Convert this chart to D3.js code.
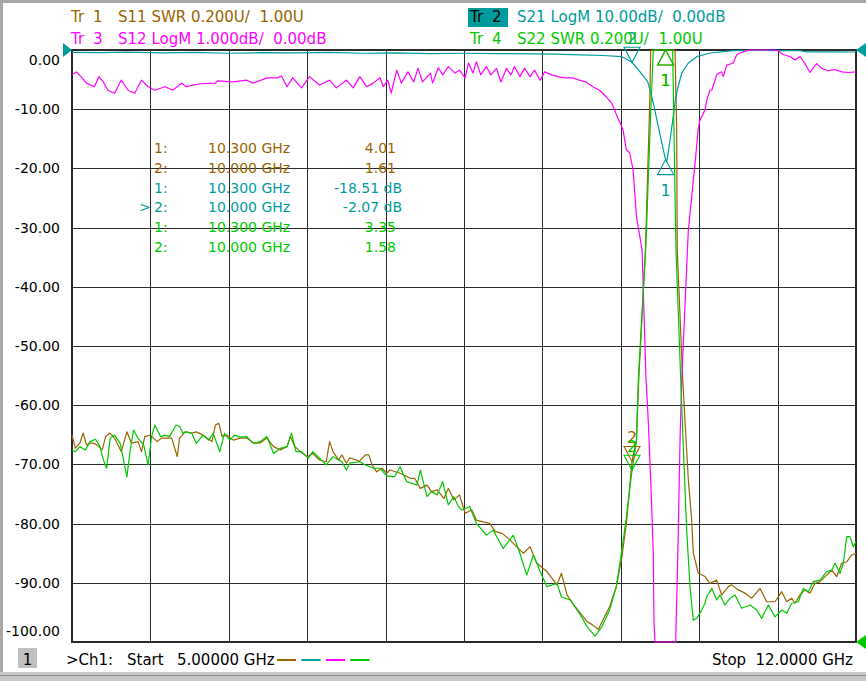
<!DOCTYPE html>
<html>
<head>
<meta charset="utf-8">
<script src="https://cdn.jsdelivr.net/npm/d3@7"></script>
<style>
  body { margin: 0; background: #fff; }
  svg { display: block; }
</style>
</head>
<body>
<div id="chart"></div>
<script>
// Sweep: 5 .. 12 GHz, 10 divisions
const startGHz = 5, stopGHz = 12;

// Tr2  S21 LogM (dB)
const s21 = [
  [5.00,-0.40],[5.25,-0.45],[5.50,-0.35],[5.80,-0.50],[6.10,-0.40],[6.40,-0.55],[6.70,-0.45],
  [7.00,-0.50],[7.30,-0.40],[7.60,-0.55],[7.90,-0.50],[8.20,-0.60],[8.50,-0.55],[8.80,-0.60],
  [9.10,-0.65],[9.30,-0.70],[9.54,-0.84],[9.74,-0.93],[9.91,-1.13],[10.00,-2.07],[10.07,-3.67],
  [10.14,-5.35],[10.19,-8.95],[10.235,-12.95],[10.28,-16.90],[10.30,-18.51],[10.31,-18.90],
  [10.34,-15.20],[10.384,-8.95],[10.404,-6.76],[10.444,-3.89],[10.503,-2.20],[10.578,-1.13],
  [10.696,-0.51],[10.902,-0.12],[11.10,-0.08],[11.30,-0.10],[11.50,-0.12],[11.55,-0.30],
  [11.80,-0.32],[12.00,-0.34]
];

// Tr3  S12 LogM (dB)
const s12 = [
  [5.00,-0.42],[5.04,-0.37],[5.09,-0.47],[5.13,-0.56],[5.20,-0.62],[5.24,-0.45],[5.28,-0.54],
  [5.32,-0.68],[5.38,-0.73],[5.44,-0.51],[5.50,-0.68],[5.56,-0.73],[5.62,-0.51],[5.68,-0.62],
  [5.74,-0.68],[5.83,-0.62],[5.90,-0.68],[5.98,-0.56],[6.02,-0.62],[6.14,-0.57],[6.28,-0.56],
  [6.30,-0.52],[6.44,-0.54],[6.56,-0.51],[6.62,-0.56],[6.74,-0.47],[6.83,-0.47],[6.87,-0.44],
  [6.92,-0.62],[6.97,-0.47],[7.05,-0.64],[7.12,-0.45],[7.21,-0.59],[7.30,-0.51],[7.36,-0.64],
  [7.45,-0.51],[7.51,-0.64],[7.57,-0.45],[7.63,-0.62],[7.69,-0.56],[7.75,-0.47],[7.78,-0.62],
  [7.82,-0.51],[7.85,-0.73],[7.90,-0.34],[7.94,-0.56],[8.00,-0.37],[8.05,-0.54],[8.09,-0.31],
  [8.13,-0.54],[8.20,-0.39],[8.22,-0.56],[8.27,-0.30],[8.31,-0.42],[8.36,-0.28],[8.42,-0.39],
  [8.46,-0.34],[8.51,-0.47],[8.54,-0.22],[8.58,-0.39],[8.61,-0.20],[8.65,-0.42],[8.70,-0.28],
  [8.74,-0.42],[8.79,-0.31],[8.83,-0.54],[8.88,-0.31],[8.92,-0.42],[8.95,-0.28],[9.00,-0.45],
  [9.04,-0.31],[9.09,-0.45],[9.13,-0.34],[9.18,-0.51],[9.22,-0.37],[9.28,-0.42],[9.34,-0.45],
  [9.40,-0.47],[9.47,-0.47],[9.53,-0.51],[9.59,-0.54],[9.65,-0.62],[9.71,-0.68],[9.77,-0.79],
  [9.82,-0.90],[9.85,-1.04],[9.88,-1.18],[9.89,-1.21],[9.92,-1.35],[9.95,-1.69],[9.98,-1.74],
  [10.01,-2.03],[10.04,-2.82],[10.07,-3.15],[10.09,-3.38],[10.125,-5.57],[10.137,-5.96],
  [10.146,-6.30],[10.161,-6.98],[10.176,-7.72],[10.19,-8.50],[10.196,-9.63],[10.205,-10.5],
  [10.39,-10.5],[10.393,-9.75],[10.404,-8.95],[10.413,-8.16],[10.422,-7.26],[10.429,-6.59],
  [10.438,-5.96],[10.444,-5.57],[10.503,-3.04],[10.533,-2.48],[10.563,-1.91],[10.592,-1.32],
  [10.607,-1.18],[10.622,-1.13],[10.652,-1.01],[10.667,-0.85],[10.696,-0.68],[10.712,-0.68],
  [10.741,-0.51],[10.756,-0.42],[10.786,-0.38],[10.801,-0.37],[10.815,-0.45],[10.846,-0.25],
  [10.86,-0.25],[10.904,-0.22],[10.935,-0.08],[10.964,-0.05],[11.024,-0.01],[11.06,0.30],
  [11.27,0.30],[11.306,-0.01],[11.351,-0.08],[11.411,-0.11],[11.455,-0.17],[11.50,-0.11],
  [11.545,-0.23],[11.589,-0.38],[11.649,-0.23],[11.694,-0.31],[11.753,-0.35],[11.813,-0.33],
  [11.872,-0.37],[11.931,-0.38],[12.00,-0.37]
];

// Tr1  S11 SWR
const s11 = [
  [5.00,1.699],[5.03,1.655],[5.07,1.672],[5.10,1.706],[5.13,1.666],[5.18,1.673],[5.22,1.666],
  [5.27,1.649],[5.30,1.694],[5.34,1.706],[5.38,1.689],[5.44,1.643],[5.49,1.710],[5.53,1.672],
  [5.59,1.677],[5.62,1.643],[5.65,1.694],[5.70,1.699],[5.76,1.677],[5.80,1.689],[5.89,1.689],
  [5.94,1.626],[5.96,1.689],[6.01,1.710],[6.07,1.706],[6.11,1.710],[6.17,1.699],[6.25,1.677],
  [6.28,1.733],[6.31,1.739],[6.34,1.694],[6.38,1.699],[6.44,1.682],[6.50,1.689],[6.56,1.689],
  [6.62,1.672],[6.68,1.672],[6.74,1.689],[6.80,1.660],[6.86,1.649],[6.92,1.660],[6.95,1.694],
  [6.99,1.660],[7.04,1.643],[7.10,1.626],[7.15,1.637],[7.21,1.615],[7.27,1.609],[7.30,1.677],
  [7.33,1.643],[7.38,1.615],[7.41,1.632],[7.45,1.604],[7.48,1.622],[7.54,1.615],[7.56,1.609],
  [7.62,1.632],[7.65,1.632],[7.68,1.598],[7.72,1.575],[7.77,1.587],[7.81,1.570],[7.84,1.581],
  [7.93,1.570],[8.02,1.553],[8.06,1.553],[8.11,1.519],[8.17,1.530],[8.21,1.508],[8.26,1.514],
  [8.32,1.485],[8.36,1.519],[8.41,1.480],[8.46,1.497],[8.51,1.435],[8.57,1.446],[8.61,1.412],
  [8.67,1.406],[8.73,1.401],[8.78,1.373],[8.84,1.367],[8.91,1.345],[8.97,1.322],[9.03,1.300],
  [9.09,1.322],[9.15,1.266],[9.24,1.238],[9.33,1.193],[9.37,1.232],[9.42,1.159],[9.48,1.125],
  [9.54,1.097],[9.60,1.069],[9.65,1.057],[9.70,1.043],[9.74,1.074],[9.80,1.119],[9.86,1.187],
  [9.91,1.288],[9.95,1.401],[10.00,1.610],[10.04,1.682],[10.06,1.885],[10.12,2.324],
  [10.14,2.584],[10.16,2.842],[10.167,3.00],[10.30,4.01],[10.384,3.00],[10.399,2.730],
  [10.404,2.324],[10.453,1.885],[10.473,1.750],[10.503,1.547],[10.533,1.412],[10.547,1.300],
  [10.563,1.277],[10.592,1.232],[10.652,1.221],[10.696,1.198],[10.756,1.209],[10.801,1.159],
  [10.86,1.187],[10.89,1.193],[10.949,1.176],[11.009,1.165],[11.069,1.148],[11.143,1.181],
  [11.203,1.136],[11.277,1.136],[11.337,1.170],[11.381,1.136],[11.426,1.148],[11.455,1.131],
  [11.50,1.159],[11.545,1.176],[11.589,1.165],[11.634,1.198],[11.679,1.204],[11.738,1.226],
  [11.783,1.243],[11.828,1.221],[11.872,1.266],[11.917,1.271],[11.962,1.294],[12.00,1.300]
];

// Tr4  S22 SWR
const s22 = [
  [5.00,1.649],[5.03,1.643],[5.07,1.660],[5.12,1.649],[5.16,1.677],[5.21,1.685],[5.25,1.660],
  [5.28,1.615],[5.31,1.587],[5.34,1.688],[5.38,1.699],[5.43,1.671],[5.46,1.615],[5.49,1.558],
  [5.52,1.649],[5.55,1.716],[5.59,1.688],[5.64,1.666],[5.68,1.598],[5.71,1.694],[5.74,1.733],
  [5.79,1.694],[5.83,1.699],[5.87,1.694],[5.93,1.733],[5.96,1.728],[5.99,1.705],[6.02,1.710],
  [6.07,1.705],[6.11,1.671],[6.17,1.699],[6.22,1.682],[6.26,1.705],[6.32,1.643],[6.36,1.705],
  [6.41,1.682],[6.45,1.699],[6.50,1.692],[6.56,1.694],[6.62,1.671],[6.68,1.677],[6.74,1.694],
  [6.80,1.637],[6.86,1.654],[6.92,1.660],[6.96,1.705],[7.00,1.643],[7.05,1.643],[7.11,1.621],
  [7.15,1.643],[7.21,1.621],[7.27,1.598],[7.33,1.626],[7.41,1.609],[7.45,1.581],[7.48,1.604],
  [7.57,1.609],[7.62,1.598],[7.69,1.587],[7.75,1.587],[7.81,1.561],[7.88,1.558],[7.93,1.592],
  [7.96,1.564],[7.99,1.542],[8.08,1.530],[8.11,1.581],[8.14,1.536],[8.17,1.491],[8.21,1.508],
  [8.26,1.497],[8.31,1.542],[8.36,1.463],[8.41,1.491],[8.45,1.458],[8.48,1.446],[8.55,1.458],
  [8.61,1.401],[8.70,1.361],[8.76,1.378],[8.85,1.316],[8.94,1.361],[9.00,1.299],[9.06,1.226],
  [9.12,1.294],[9.18,1.238],[9.24,1.187],[9.33,1.198],[9.37,1.152],[9.45,1.142],[9.54,1.091],
  [9.60,1.051],[9.67,1.020],[9.73,1.051],[9.80,1.108],[9.86,1.187],[9.91,1.311],[9.95,1.423],
  [10.00,1.580],[10.04,1.682],[10.056,1.885],[10.125,2.348],[10.146,2.571],[10.167,2.787],
  [10.19,3.00],[10.30,3.35],[10.363,3.00],[10.377,2.673],[10.393,2.324],[10.435,1.885],
  [10.458,1.660],[10.488,1.378],[10.518,1.187],[10.547,1.074],[10.578,1.080],[10.622,1.108],
  [10.652,1.131],[10.667,1.153],[10.712,1.181],[10.756,1.142],[10.786,1.159],[10.83,1.125],
  [10.875,1.148],[10.92,1.159],[10.979,1.114],[11.054,1.125],[11.113,1.108],[11.158,1.080],
  [11.217,1.125],[11.277,1.085],[11.337,1.108],[11.381,1.097],[11.426,1.131],[11.485,1.136],
  [11.529,1.181],[11.574,1.170],[11.619,1.204],[11.679,1.209],[11.738,1.238],[11.783,1.243],
  [11.813,1.266],[11.857,1.232],[11.887,1.266],[11.917,1.356],[11.946,1.356],[11.976,1.322],
  [12.00,1.339]
];

// markers (same stimulus on every trace), marker 2 is the active one
const markerFreqs = [10.300, 10.000];
const s11Markers = [4.01, 1.61];
const s21Markers = [-18.51, -2.07];
const s22Markers = [3.35, 1.58];

// y-axis labels follow Tr2 (10 dB/div, ref 0 dB at top)
const yTickValues = [0, -10, -20, -30, -40, -50, -60, -70, -80, -90, -100];

const brown = "#9a6400", teal = "#009c9c", magenta = "#ff00ff", green = "#00c800";
const gridColor = "#2b2b2b";
const font = "'DejaVu Sans', Verdana, sans-serif";

const width = 866, height = 681;
const plot = {left: 72, right: 856, top: 50, bottom: 642};

const svg = d3.select("#chart").append("svg")
  .attr("width", width)
  .attr("height", height)
  .style("font-family", font);

// window frame
svg.append("rect").attr("width", width).attr("height", height).attr("fill", "#fff");
svg.append("rect").attr("width", width).attr("height", 3).attr("fill", "#a8a8a8");
svg.append("rect").attr("width", 3).attr("height", height).attr("fill", "#a8a8a8");
svg.append("rect").attr("y", 672).attr("width", width).attr("height", 9).attr("fill", "#c8c8c8");
svg.append("rect").attr("y", 675).attr("width", width).attr("height", 1).attr("fill", "#8c8c8c");

// scales, one per trace format; clamp pins off-screen values to the edges like the analyser does
let x = d3.scaleLinear().domain([startGHz, stopGHz]).range([plot.left, plot.right]);
let yLog10 = d3.scaleLinear().domain([-100, 0]).range([plot.bottom, plot.top]).clamp(true);
let yLog1 = d3.scaleLinear().domain([-10, 0]).range([plot.bottom, plot.top]).clamp(true);
let ySwr = d3.scaleLinear().domain([1, 3]).range([plot.bottom, plot.top]).clamp(true);

// vertical grid
let xTicks = d3.range(11).map(i => startGHz + i * (stopGHz - startGHz) / 10);
let xGrid = svg.append("g")
  .attr("transform", `translate(0,${plot.bottom})`)
  .call(d3.axisBottom(x).tickValues(xTicks).tickSize(-(plot.bottom - plot.top)).tickSizeOuter(0).tickFormat(""));
xGrid.select(".domain").remove();
xGrid.selectAll("line").attr("stroke", gridColor).attr("shape-rendering", "crispEdges");

// horizontal grid + labels
let yAxis = svg.append("g")
  .attr("transform", `translate(${plot.left},0)`)
  .call(d3.axisLeft(yLog10).tickValues(yTickValues).tickSize(-(plot.right - plot.left))
    .tickSizeOuter(0).tickPadding(12).tickFormat(d => d.toFixed(2)));
yAxis.select(".domain").remove();
yAxis.attr("font-family", font).attr("font-size", 14);
yAxis.selectAll("line").attr("stroke", gridColor).attr("shape-rendering", "crispEdges");
yAxis.selectAll("text")
  .attr("fill", "#000")
  .attr("dy", d => d === 0 ? 14.5 : d === -100 ? -6.5 : 4.5);

// border
svg.append("rect")
  .attr("x", plot.left).attr("y", plot.top)
  .attr("width", plot.right - plot.left).attr("height", plot.bottom - plot.top)
  .attr("fill", "none").attr("stroke", gridColor).attr("stroke-width", 1.5)
  .attr("shape-rendering", "crispEdges");

// traces
let traces = [
  {data: s11, y: ySwr, color: brown},
  {data: s21, y: yLog10, color: teal},
  {data: s12, y: yLog1, color: magenta},
  {data: s22, y: ySwr, color: green}
];

traces.forEach(function(t) {
  let line = d3.line()
    .x(d => x(d[0]))
    .y(d => t.y(d[1]));
  svg.append("path")
    .datum(t.data)
    .attr("d", line)
    .attr("fill", "none")
    .attr("stroke", t.color)
    .attr("stroke-width", 1.2)
    .attr("stroke-linejoin", "round");
});

// marker triangles: active marker (2) sits above the trace, the others below
let markerSets = [
  {vals: s11Markers, y: ySwr, color: brown},
  {vals: s21Markers, y: yLog10, color: teal},
  {vals: s22Markers, y: ySwr, color: green}
];

markerSets.forEach(function(m) {
  m.vals.forEach(function(v, i) {
    let px = x(markerFreqs[i]), py = m.y(v);
    let active = i === 1;
    let pts = active
      ? [[px - 8, py - 15], [px + 8, py - 15], [px, py]]
      : [[px, py], [px - 8, py + 15], [px + 8, py + 15]];
    svg.append("polygon")
      .attr("points", pts.map(p => p.join(",")).join(" "))
      .attr("fill", "none")
      .attr("stroke", m.color)
      .attr("stroke-width", 1.1);
    svg.append("text")
      .attr("x", px)
      .attr("y", active ? py - 18 : py + 36)
      .attr("text-anchor", "middle")
      .attr("font-size", 16)
      .attr("fill", m.color)
      .text(i + 1);
  });
});

// reference position arrows
function refArrow(px, py, dir, color) {
  let pts = dir > 0
    ? [[px - 9, py - 7], [px, py], [px - 9, py + 7]]
    : [[px + 10, py - 7], [px, py], [px + 10, py + 7]];
  svg.append("polygon").attr("points", pts.map(p => p.join(",")).join(" ")).attr("fill", color);
}
refArrow(plot.left, yLog10(0), 1, teal);
refArrow(plot.right, yLog10(0), -1, teal);
refArrow(plot.right, ySwr(1), -1, green);

// channel header
let headers = [
  {tr: "1", text: "S11 SWR 0.200U/  1.00U", color: brown, x: 71, y: 22},
  {tr: "3", text: "S12 LogM 1.000dB/  0.00dB", color: magenta, x: 71, y: 44},
  {tr: "2", text: "S21 LogM 10.00dB/  0.00dB", color: teal, x: 470, y: 22, active: true},
  {tr: "4", text: "S22 SWR 0.200U/  1.00U", color: green, x: 470, y: 44}
];

headers.forEach(function(h) {
  if (h.active) {
    svg.append("rect").attr("x", h.x - 2).attr("y", h.y - 14).attr("width", 40).attr("height", 19)
      .attr("fill", h.color);
  }
  let g = svg.append("g").attr("font-size", 15).attr("fill", h.active ? "#000" : h.color);
  g.append("text").attr("x", h.x).attr("y", h.y).text("Tr");
  g.append("text").attr("x", h.x + 22).attr("y", h.y).text(h.tr);
  svg.append("text").attr("x", h.x + 47).attr("y", h.y)
    .attr("font-size", 15).attr("fill", h.color)
    .style("white-space", "pre").text(h.text);
});

// marker readout table
let tableRows = [];
[[s11Markers, brown, ""], [s21Markers, teal, " dB"], [s22Markers, green, ""]].forEach(function(r) {
  r[0].forEach(function(v, i) {
    tableRows.push({idx: i + 1, f: markerFreqs[i], v: v, unit: r[2], color: r[1], active: r[2] !== "" && i === 1});
  });
});

let rows = svg.append("g").attr("font-size", 14)
  .selectAll("g")
  .data(tableRows)
  .enter()
  .append("g")
  .attr("fill", d => d.color)
  .attr("transform", (d, i) => `translate(0,${153 + i * 19.8})`);

rows.append("text").attr("x", 154).text(d => d.idx + ":");
rows.append("text").attr("x", 208).text(d => d.f.toFixed(3) + " GHz");
rows.append("text")
  .attr("x", d => d.unit ? 402 : 396)
  .attr("text-anchor", "end")
  .text(d => d.v.toFixed(2) + d.unit);
rows.filter(d => d.active).append("text").attr("x", 139).text(">");

// bottom status line
svg.append("rect").attr("x", 18).attr("y", 648).attr("width", 19).attr("height", 20).attr("fill", "#c0c0c0");
let foot = svg.append("g").attr("font-size", 15).attr("fill", "#000");
foot.append("text").attr("x", 27.5).attr("y", 665).attr("text-anchor", "middle").text("1");
foot.append("text").attr("x", 66).attr("y", 665).text(">Ch1:");
foot.append("text").attr("x", 127).attr("y", 665).text("Start");
foot.append("text").attr("x", 177).attr("y", 665).text("5.00000 GHz");
foot.append("text").attr("x", 712).attr("y", 665).text("Stop");
foot.append("text").attr("x", 853).attr("y", 665).attr("text-anchor", "end").text("12.0000 GHz");

svg.selectAll(".legendDash")
  .data([brown, teal, magenta, green])
  .enter()
  .append("line")
  .attr("x1", (d, i) => 277 + i * 24.5)
  .attr("x2", (d, i) => 296 + i * 24.5)
  .attr("y1", 660).attr("y2", 660)
  .attr("stroke", d => d)
  .attr("stroke-width", 2);
</script>
</body>
</html>
